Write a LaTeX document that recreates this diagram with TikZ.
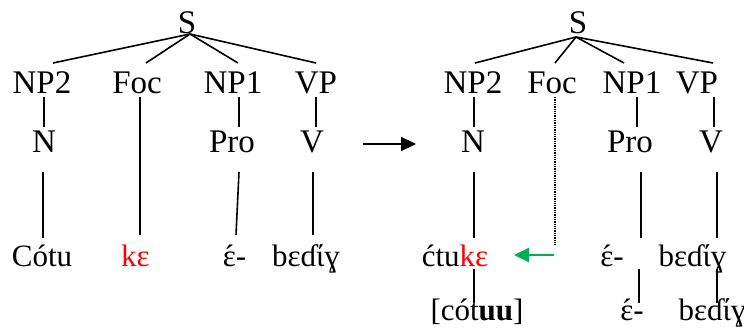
\documentclass[tikz,border=0pt]{standalone}
\usepackage{fontspec}
\setmainfont{Liberation Serif}
\usetikzlibrary{calc,arrows.meta}
\definecolor{wordgreen}{HTML}{00B050}
\newcommand{\epsac}{\ooalign{ɛ\cr\hidewidth\char"00B4\hidewidth\cr}}
\begin{document}
\begin{tikzpicture}[x=1pt,y=-1pt,
  lbl/.style={anchor=base,inner sep=0pt,font=\fontsize{33}{36}\selectfont},
  leaf/.style={anchor=base,inner sep=0pt,font=\fontsize{31}{34}\selectfont},
  edge/.style={line width=1.6pt},
  dotedge/.style={line width=1.8pt,dash pattern=on 1.3pt off 1pt},
  bigarrow/.style={line width=2.3pt,-{Triangle[length=15pt,width=14pt]}},
  greenarrow/.style={line width=2.3pt,draw=wordgreen,-{Triangle[length=15pt,width=14pt]}}]
\useasboundingbox (0,0) rectangle (744,332);
% ---------- left tree ----------
\node[lbl] (S) at (187,33) {S};
\node[lbl] (NP2) at (42,93) {NP2};
\node[lbl] (Foc) at (137,93) {Foc};
\node[lbl] (NP1) at (233,93) {NP1};
\node[lbl] (VP) at (316,93) {VP};
\node[lbl] (N) at (44,152) {N};
\node[lbl] (Pro) at (232,152) {Pro};
\node[lbl] (V) at (312,152) {V};
\node[leaf] (Cotu) at (42,266) {Cótu};
\node[leaf,text=red] (ke) at (135.5,266) {kɛ};
\node[leaf] (eps) at (234.5,266) {\epsac-};
\node[leaf] (bed) at (306,266) {bɛɗίɣ};
\draw[edge] ($(S.base)+(3,1)$) -- ($(NP2.base)+(11,-30)$);
\draw[edge] ($(S.base)+(3,1)$) -- ($(Foc.base)+(9,-30)$);
\draw[edge] ($(S.base)+(3,1)$) -- ($(NP1.base)+(5,-30)$);
\draw[edge] ($(S.base)+(3,1)$) -- ($(VP.base)+(0,-30)$);
\draw[edge] ($(NP2.base)+(2,4)$) -- ($(N.base)+(0,-25)$);
\draw[edge] ($(Foc.base)+(3,4)$) -- ($(ke.base)+(4.5,-31)$);
\draw[edge] ($(NP1.base)+(6,4)$) -- ($(Pro.base)+(7,-25)$);
\draw[edge] ($(VP.base)+(0,4)$) -- ($(V.base)+(4,-25)$);
\draw[edge] ($(N.base)+(-1,20)$) -- ($(Cotu.base)+(1,-28)$);
\draw[edge] ($(Pro.base)+(7,20)$) -- ($(eps.base)+(1.5,-31)$);
\draw[edge] ($(V.base)+(1,20)$) -- ($(bed.base)+(7,-31)$);
% ---------- transformation arrow ----------
\coordinate (a1) at (363,144);
\coordinate (a2) at (416,144);
\draw[bigarrow] (a1) -- (a2);
% ---------- right tree ----------
\node[lbl] (S2) at (578,33) {S};
\node[lbl] (NP2b) at (473,93) {NP2};
\node[lbl] (Focb) at (552,93) {Foc};
\node[lbl] (NP1b) at (632,93) {NP1};
\node[lbl] (VPb) at (697,93) {VP};
\node[lbl] (Nb) at (473,152) {N};
\node[lbl] (Prob) at (630,152) {Pro};
\node[lbl] (Vb) at (711,152) {V};
\node[leaf] (ctuke) at (455,266) {ćtu\textcolor{red}{kɛ}};
\node[leaf] (eps2) at (612,266) {\epsac-};
\node[leaf] (bed2) at (692.5,266) {bɛɗίɣ};
\node[leaf] (cotuu) at (477,320) {[cót\textbf{uu}]};
\node[leaf] (eps3) at (632,320) {\epsac-};
\node[leaf] (bed3) at (712.5,320) {bɛɗίɣ};
\coordinate (fe) at (555,245);
\coordinate (g1) at (554,255);
\draw[edge] ($(S2.base)+(-2,4)$) -- ($(NP2b.base)+(2,-30)$);
\draw[edge] ($(S2.base)+(-2,4)$) -- ($(Focb.base)+(3,-30)$);
\draw[edge] ($(S2.base)+(-2,4)$) -- ($(NP1b.base)+(-8,-30)$);
\draw[edge] ($(S2.base)+(-2,4)$) -- ($(VPb.base)+(16,-30)$);
\draw[edge] ($(NP2b.base)+(1,4)$) -- ($(Nb.base)+(1,-25)$);
\draw[edge] ($(NP1b.base)+(5,4)$) -- ($(Prob.base)+(7,-25)$);
\draw[edge] ($(VPb.base)+(17,4)$) -- ($(Vb.base)+(3,-25)$);
\draw[dotedge] ($(Focb.base)+(3,4)$) -- (fe);
\draw[greenarrow] (g1) -- ($(ctuke.base)+(59,-11)$);
\draw[edge] ($(Nb.base)+(1,20)$) -- ($(ctuke.base)+(19,-28)$);
\draw[edge] ($(ctuke.base)+(19,3)$) -- ($(cotuu.base)+(-3,-17)$);
\draw[edge] ($(Prob.base)+(11,20)$) -- ($(eps2.base)+(29,-28)$);
\draw[edge] ($(Vb.base)+(6,20)$) -- ($(bed2.base)+(24.5,-28)$);
\draw[edge] ($(eps2.base)+(27,3)$) -- ($(eps3.base)+(7,-17)$);
\draw[edge] ($(bed2.base)+(24.5,3)$) -- ($(bed3.base)+(4.5,-17)$);
\end{tikzpicture}
\end{document}
